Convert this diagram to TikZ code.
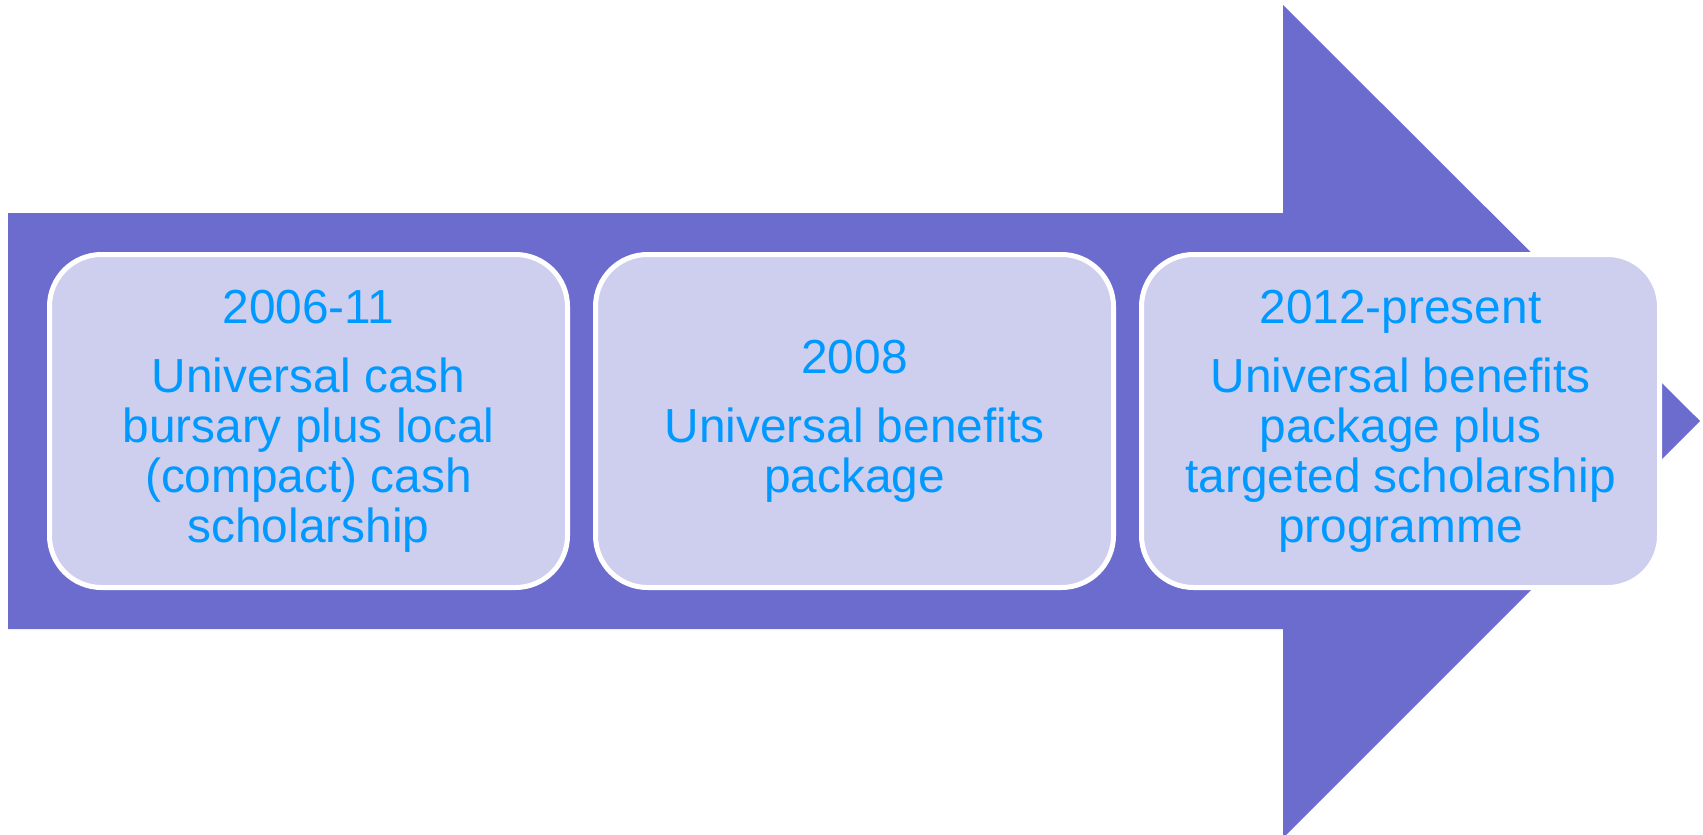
\documentclass[tikz,border=0pt]{standalone}
\usepackage{fontspec}
\setmainfont{Liberation Sans}
\usepackage{tikz}

\definecolor{arrowblue}{RGB}{108,108,206}
\definecolor{stagefill}{RGB}{206,206,238}
\definecolor{stagetext}{RGB}{0,153,255}

\begin{document}
\begin{tikzpicture}[x=0.5pt, y=-0.5pt,
	stage/.style={rectangle, rounded corners=26pt, draw=white, line width=2.5pt,
		fill=stagefill, text=stagetext, align=center,
		minimum width=259pt, minimum height=166.5pt, inner sep=0pt,
		font=\fontsize{23.9}{25}\selectfont}]
	\useasboundingbox (0,0) rectangle (1703,835);

	\fill [arrowblue] (8,213) -- (1283,213) -- (1283,5) -- (1700,421)
		-- (1283,838) -- (1283,629) -- (8,629) -- cycle;

	\draw (308.5,421) node[stage] (bursary) {2006-11\\[9.5pt]Universal cash\\bursary plus local\\(compact) cash\\scholarship} ;
	\draw (854.5,421) node[stage] (benefits) {2008\\[9.5pt]Universal benefits\\package} ;
	\draw (1400.5,421) node[stage] (targeted) {2012-present\\[9.5pt]Universal benefits\\package plus\\targeted scholarship\\programme} ;
\end{tikzpicture}
\end{document}
